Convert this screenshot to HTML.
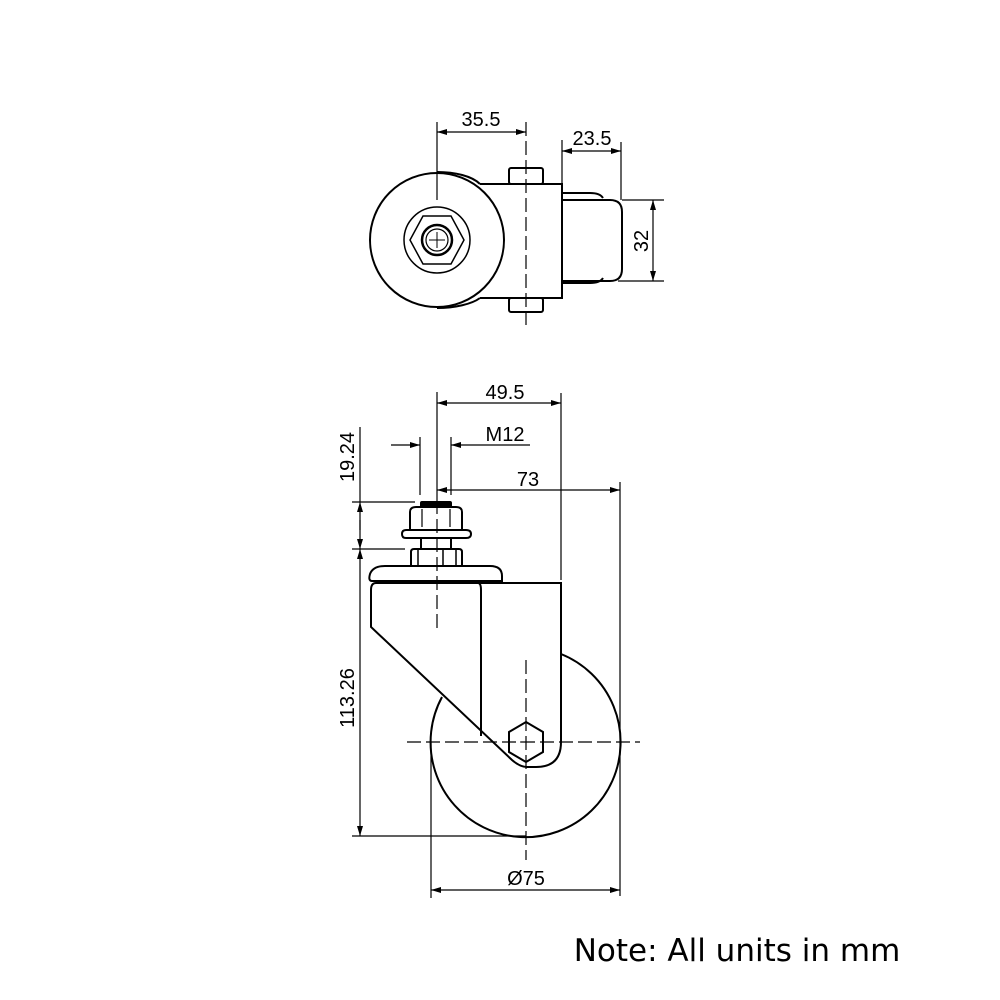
<!DOCTYPE html>
<html><head><meta charset="utf-8"><style>
html,body{margin:0;padding:0;background:#fff;}
svg{display:block}
text{font-family:"Liberation Sans",sans-serif;fill:#000;font-size:20px}
</style></head><body>
<svg width="1000" height="1000" viewBox="0 0 1000 1000" xmlns="http://www.w3.org/2000/svg">
<defs>
<marker id="a" viewBox="0 0 10 6" refX="10" refY="3" markerWidth="14" markerHeight="6" markerUnits="userSpaceOnUse" orient="auto-start-reverse"><path d="M0,0 L10,3 L0,6 z" fill="#000"/></marker>
</defs>
<g fill="none" stroke="#000" stroke-width="1.2">
<line x1="437" y1="122" x2="437" y2="200"/>
<line x1="526" y1="122" x2="526" y2="325" stroke-dasharray="14,5"/>
<line x1="437" y1="132" x2="526" y2="132" marker-start="url(#a)" marker-end="url(#a)"/>
<line x1="562" y1="140" x2="562" y2="184"/>
<line x1="621" y1="142" x2="621" y2="200"/>
<line x1="562" y1="151" x2="621" y2="151" marker-start="url(#a)" marker-end="url(#a)"/>
<line x1="622" y1="200" x2="664" y2="200"/>
<line x1="618" y1="281" x2="664" y2="281"/>
<line x1="653" y1="200" x2="653" y2="281" marker-start="url(#a)" marker-end="url(#a)"/>
</g>
<g fill="none" stroke="#000" stroke-width="2">
<circle cx="437" cy="240" r="67"/>
<path d="M437,172 C455,172 472,176 480,184 M437,308 C455,308 472,304 480,298"/>
<circle cx="437" cy="240" r="33" stroke-width="1.5"/>
<polygon points="423,216 451,216 464,240 451,264 423,264 410,240" stroke-width="1.5"/>
<circle cx="437" cy="240" r="15" stroke-width="2.5"/>
<circle cx="437" cy="240" r="11" stroke-width="1.2"/>
<path d="M480,184 L562,184 L562,298 L480,298"/>
<rect x="509" y="168" width="34" height="16" rx="2"/>
<rect x="509" y="298" width="34" height="14" rx="2"/>
<path d="M562,193 L590,193 Q600,193 603,198 M562,283 L590,283 Q600,283 603,278"/>
<path d="M562,200 L610,200 Q622,200 622,212 L622,269 Q622,281 610,281 L562,281"/>
</g>
<g stroke="#000" stroke-width="1" fill="none">
<line x1="437" y1="232" x2="437" y2="248"/><line x1="429" y1="240" x2="445" y2="240"/>
</g>
<text x="481" y="126" text-anchor="middle">35.5</text>
<text x="592" y="145" text-anchor="middle">23.5</text>
<text x="0" y="0" text-anchor="middle" transform="translate(648,241) rotate(-90)">32</text>

<g fill="none" stroke="#000" stroke-width="1.2">
<line x1="437" y1="392" x2="437" y2="500"/>
<line x1="561" y1="393" x2="561" y2="580"/>
<line x1="437" y1="403" x2="561" y2="403" marker-start="url(#a)" marker-end="url(#a)"/>
<line x1="420" y1="437" x2="420" y2="495"/>
<line x1="451" y1="437" x2="451" y2="495"/>
<line x1="391" y1="445" x2="420" y2="445" marker-end="url(#a)"/>
<line x1="530" y1="445" x2="451" y2="445" marker-end="url(#a)"/>
<line x1="620" y1="482" x2="620" y2="896"/>
<line x1="437" y1="490" x2="620" y2="490" marker-start="url(#a)" marker-end="url(#a)"/>
<line x1="352" y1="502" x2="415" y2="502"/>
<line x1="352" y1="549" x2="405" y2="549"/>
<line x1="360" y1="427" x2="360" y2="502"/>
<line x1="360" y1="530" x2="360" y2="502" marker-end="url(#a)"/>
<line x1="360" y1="520" x2="360" y2="549" marker-end="url(#a)"/>
<line x1="360" y1="549" x2="360" y2="836" marker-start="url(#a)" marker-end="url(#a)"/>
<line x1="352" y1="836" x2="526" y2="836"/>
<line x1="431" y1="742" x2="431" y2="898"/>
<line x1="431" y1="890" x2="620" y2="890" marker-start="url(#a)" marker-end="url(#a)"/>
<line x1="437" y1="500" x2="437" y2="630" stroke-dasharray="14,5"/>
<line x1="526" y1="660" x2="526" y2="860" stroke-dasharray="14,5"/>
<line x1="407" y1="742" x2="640" y2="742" stroke-dasharray="14,5"/>
</g>
<text x="505" y="399" text-anchor="middle">49.5</text>
<text x="505" y="441" text-anchor="middle">M12</text>
<text x="528" y="486" text-anchor="middle">73</text>
<text x="526" y="885" text-anchor="middle">Ø75</text>
<text text-anchor="middle" transform="translate(354,457) rotate(-90)">19.24</text>
<text text-anchor="middle" transform="translate(354,698) rotate(-90)">113.26</text>

<g fill="none" stroke="#000" stroke-width="2">
<rect x="421" y="502" width="30" height="5" fill="#000" rx="1"/>
<path d="M410,530 L410,512 Q410,507 416,507 L456,507 Q462,507 462,512 L462,530"/>
<path d="M406,530 L466,530 Q471,530 471,534 Q471,538 466,538 L406,538 Q402,538 402,534 Q402,530 406,530 Z"/>
<path d="M422,509 L422,527 M450,509 L450,527" stroke-width="1.2"/>
<path d="M421,538 L421,549 M451,538 L451,549"/>
<path d="M411,565 L411,552 Q411,549 414,549 L459,549 Q462,549 462,552 L462,565"/>
<path d="M418,550 L418,565 M443,550 L443,565 M456,550 L456,565" stroke-width="1.5"/>
<path d="M372,581 Q368,581 370,574 Q373,566 385,566 L490,566 Q502,566 502,576 L502,581 Z"/>
<path d="M376,583 L558,583 L561,583 L561,742 Q561,767 536,767 L527,767 Q520,767 512,760 L371,627 L371,590 Q371,583 376,583"/>
<path d="M478,583 Q481,583 481,590 L481,736"/>
<path d="M561,654 A95,95 0 1 1 442,697"/>
<polygon points="526,722 543,732 543,752 526,762 509,752 509,732"/>
</g>
<g stroke="#000" stroke-width="1" fill="none">
<line x1="526" y1="736" x2="526" y2="748"/><line x1="520" y1="742" x2="532" y2="742"/>
</g>
<text x="737" y="961" text-anchor="middle" style="font-family:'DejaVu Sans','Liberation Sans',sans-serif;font-size:31px">Note: All units in mm</text>
</svg>
</body></html>
